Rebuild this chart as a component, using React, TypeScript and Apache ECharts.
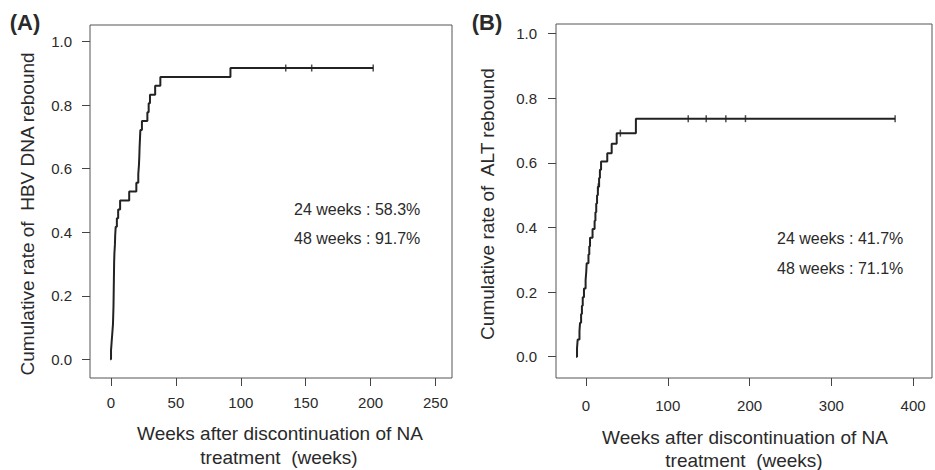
import React, { useEffect, useRef } from "react";
import * as echarts from "echarts";

// Panel A: HBV DNA rebound (Kaplan-Meier step points: week of event, cumulative rate after it)
const weeksA = [-0.7, 0, 0.5, 1, 1.5, 1.7, 1.9, 2, 2.1, 2.2, 2.3, 2.4, 2.6, 3, 3.2, 3.6, 4.5, 5.5, 7, 14, 19.5, 21, 21.5, 21.8, 22, 22.3, 22.6, 23.8, 28, 29, 30, 34, 38, 92, 202];
const rateA = [0, 0.028, 0.056, 0.083, 0.111, 0.139, 0.167, 0.194, 0.222, 0.25, 0.278, 0.306, 0.333, 0.361, 0.389, 0.417, 0.444, 0.472, 0.5, 0.528, 0.556, 0.583, 0.611, 0.639, 0.667, 0.694, 0.722, 0.75, 0.778, 0.806, 0.833, 0.861, 0.889, 0.917, 0.917];
const censorWeeksA = [134.6, 154.6, 202];
const censorRateA = [0.917, 0.917, 0.917];

// Panel B: ALT rebound
const weeksB = [-12.2, -11, -10.2, -8, -7.3, -6, -5, -4, -2.5, -0.5, 0.3, 0.8, 3, 4, 4.9, 8, 10.5, 11.5, 12.5, 13.5, 14.5, 16, 17, 18.4, 26, 31.4, 37.5, 61, 378];
const rateB = [0, 0.026, 0.053, 0.079, 0.105, 0.132, 0.158, 0.184, 0.211, 0.237, 0.263, 0.289, 0.316, 0.342, 0.368, 0.395, 0.421, 0.447, 0.474, 0.5, 0.526, 0.553, 0.579, 0.604, 0.63, 0.659, 0.692, 0.737, 0.737];
const censorWeeksB = [15, 42, 125, 147, 171, 195, 378];
const censorRateB = [0.526, 0.692, 0.737, 0.737, 0.737, 0.737, 0.737];

const xTicksA = [0, 50, 100, 150, 200, 250];
const xTicksB = [0, 100, 200, 300, 400];
const yTicks = [0, 0.2, 0.4, 0.6, 0.8, 1.0];

const annotA = ["24 weeks : 58.3%", "48 weeks : 91.7%"];
const annotB = ["24 weeks : 41.7%", "48 weeks : 71.1%"];

const FONT = "'Liberation Sans', Arial, sans-serif";
const TXT = "#2a2a2a";

export default function App() {
  const ref = useRef<HTMLDivElement>(null);
  useEffect(() => {
    document.body.style.margin = "0";
    if (!ref.current) return;
    const chart = echarts.init(ref.current, null, { renderer: "svg" });

    const xAxisBase = (min: number, max: number, ticks: number[], gridIndex: number, margin: number) => ({
      type: "value",
      gridIndex,
      min,
      max,
      splitLine: { show: false },
      axisLine: { show: false, onZero: false },
      axisTick: { show: true, length: 8, customValues: ticks, lineStyle: { color: "#444", width: 1 } },
      axisLabel: {
        customValues: ticks,
        margin,
        fontSize: 15,
        color: TXT,
        fontFamily: FONT,
      },
    });
    const yAxisBase = (min: number, max: number, gridIndex: number, margin: number) => ({
      type: "value",
      gridIndex,
      min,
      max,
      splitLine: { show: false },
      axisLine: { show: false, onZero: false },
      axisTick: { show: true, length: 8, customValues: yTicks, lineStyle: { color: "#444", width: 1 } },
      axisLabel: {
        customValues: yTicks,
        margin,
        fontSize: 15,
        color: TXT,
        fontFamily: FONT,
        formatter: (v: number) => v.toFixed(1),
      },
    });

    const text = (t: string, x: number, y: number, size: number, extra: any = {}) => ({
      type: "text",
      x,
      y,
      rotation: extra.rotation || 0,
      style: {
        text: t,
        fontSize: size,
        fontFamily: FONT,
        fontWeight: extra.bold ? "bold" : "normal",
        fill: TXT,
        align: extra.align || "center",
        verticalAlign: "middle",
      },
    });

    chart.setOption({
      animation: false,
      backgroundColor: "#ffffff",
      grid: [
        { left: 90, top: 25, width: 362, height: 353, show: true, borderColor: "#555", borderWidth: 1, backgroundColor: "transparent" },
        { left: 556, top: 24, width: 376, height: 354, show: true, borderColor: "#555", borderWidth: 1, backgroundColor: "transparent" },
      ],
      xAxis: [xAxisBase(-16.2, 262.7, xTicksA, 0, 17), xAxisBase(-36.7, 423.1, xTicksB, 1, 20)],
      yAxis: [yAxisBase(-0.0588, 1.0525, 0, 18), yAxisBase(-0.066, 1.03, 1, 19)],
      series: [
        {
          type: "line",
          xAxisIndex: 0,
          yAxisIndex: 0,
          step: "end",
          showSymbol: false,
          data: weeksA.map((w, i) => [w, rateA[i]]),
          lineStyle: { color: "#222", width: 2 },
        },
        {
          type: "scatter",
          xAxisIndex: 0,
          yAxisIndex: 0,
          symbol: "rect",
          symbolSize: [1.5, 7],
          data: censorWeeksA.map((w, i) => [w, censorRateA[i]]),
          itemStyle: { color: "#222" },
        },
        {
          type: "line",
          xAxisIndex: 1,
          yAxisIndex: 1,
          step: "end",
          showSymbol: false,
          data: weeksB.map((w, i) => [w, rateB[i]]),
          lineStyle: { color: "#222", width: 2 },
        },
        {
          type: "scatter",
          xAxisIndex: 1,
          yAxisIndex: 1,
          symbol: "rect",
          symbolSize: [1.5, 7],
          data: censorWeeksB.map((w, i) => [w, censorRateB[i]]),
          itemStyle: { color: "#222" },
        },
      ],
      graphic: [
        text("(A)", 25, 22, 22, { bold: true }),
        text("(B)", 487, 22, 22, { bold: true }),
        text("Cumulative rate of  HBV DNA rebound", 27, 214, 19, { rotation: Math.PI / 2 }),
        text("Cumulative rate of  ALT rebound", 487, 204, 19, { rotation: Math.PI / 2 }),
        text("Weeks after discontinuation of NA", 280, 433, 19),
        text("treatment  (weeks)", 279, 457, 19),
        text("Weeks after discontinuation of NA", 745, 437, 19),
        text("treatment  (weeks)", 744, 460, 19),
        text(annotA[0], 294, 209, 16, { align: "left" }),
        text(annotA[1], 294, 238, 16, { align: "left" }),
        text(annotB[0], 777, 238, 16, { align: "left" }),
        text(annotB[1], 777, 268, 16, { align: "left" }),
      ],
    });
    return () => chart.dispose();
  }, []);
  return <div ref={ref} style={{ width: 935, height: 470 }} />;
}
